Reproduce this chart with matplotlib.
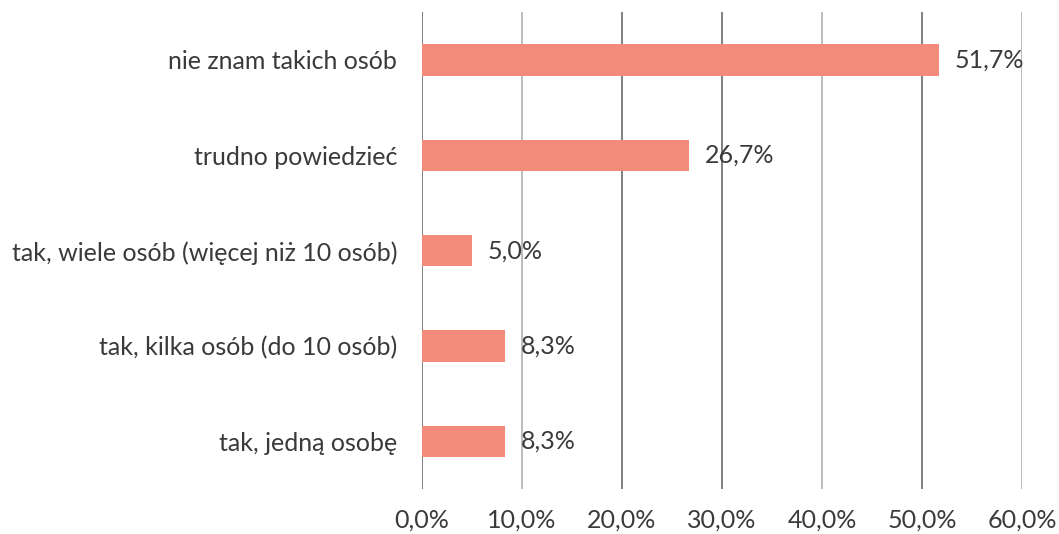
import matplotlib
matplotlib.use('Agg')
import matplotlib.pyplot as plt
import numpy as np

categories = ['nie znam takich osób',
              'trudno powiedzieć',
              'tak, wiele osób (więcej niż 10 osób)',
              'tak, kilka osób (do 10 osób)',
              'tak, jedną osobę']
values = [51.7, 26.7, 5.0, 8.3, 8.3]
ticks = [0, 10, 20, 30, 40, 50, 60]

plt.rcParams['font.family'] = ['Lato', 'DejaVu Sans']
text_color = '#3a3a3a'

fig = plt.figure(figsize=(10.59, 5.34), dpi=100)
ax = fig.add_axes([0.3985, 0.084, 0.5665, 0.893])

y = np.arange(len(categories))[::-1]
ax.barh(y, values, height=0.33, color='#F28B79', zorder=3)

for yi, v in zip(y, values):
    ax.text(v + 1.6, yi, ('%.1f%%' % v).replace('.', ','), va='center',
            ha='left', fontsize=18, color=text_color, zorder=4)

ax.set_xlim(0, 60)
ax.set_ylim(-0.5, len(categories) - 0.5)
ax.set_xticks(ticks)
ax.set_xticklabels([('%.1f%%' % t).replace('.', ',') for t in ticks],
                   fontsize=18, color=text_color)
ax.set_yticks(y)
ax.set_yticklabels(categories, fontsize=18, color=text_color)
ax.tick_params(axis='x', length=0, pad=14)
ax.tick_params(axis='y', length=0, pad=18)

for t in ticks:
    ax.axvline(t, color='#6a6a6a' if t in (0, 20, 30, 50) else '#b0b0b0',
               lw=1.2, zorder=1)

for s in ax.spines.values():
    s.set_visible(False)

fig.savefig('out.png', dpi=100)
